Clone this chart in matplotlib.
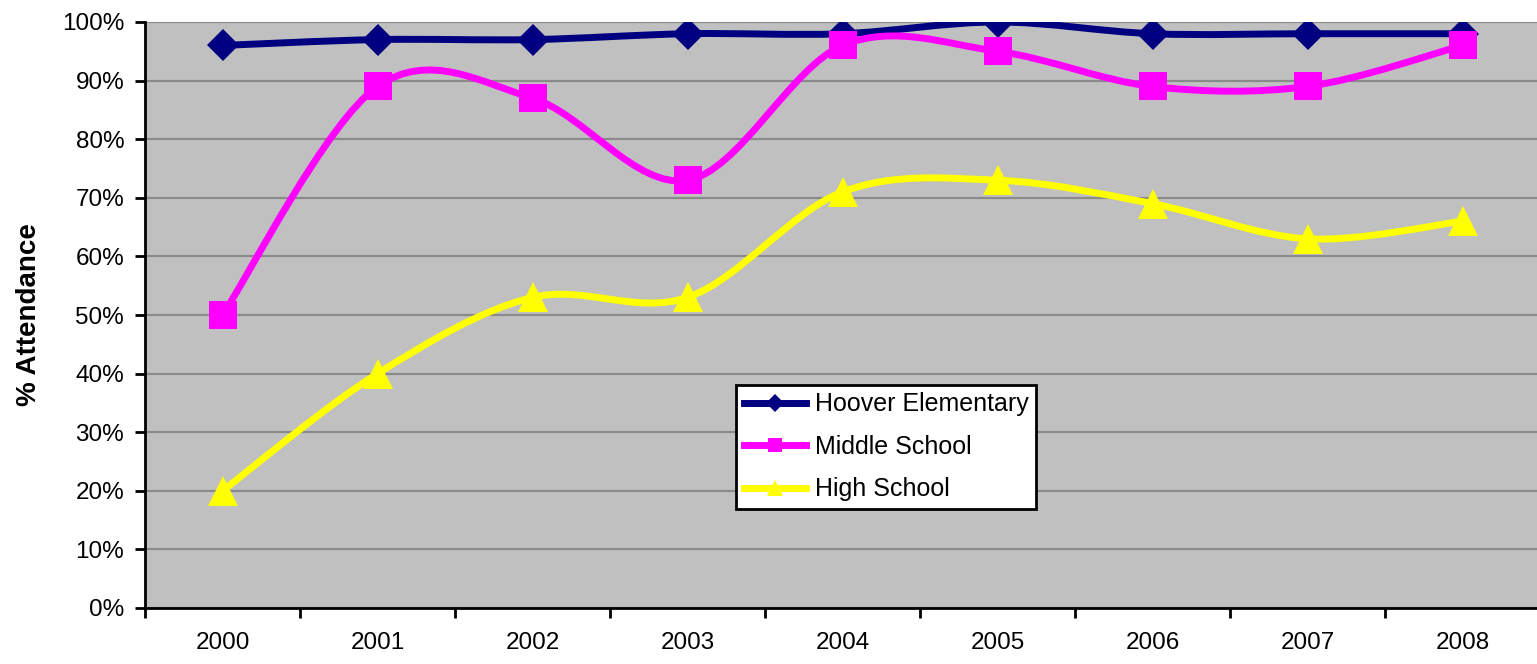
import matplotlib
matplotlib.use("Agg")
import matplotlib.pyplot as plt
import numpy as np
from matplotlib.path import Path
from matplotlib.patches import PathPatch
from matplotlib.lines import Line2D
from matplotlib.ticker import FuncFormatter, MultipleLocator

plt.rcParams['font.family'] = ['Liberation Sans', 'DejaVu Sans']

years = ["2000", "2001", "2002", "2003", "2004", "2005", "2006", "2007", "2008"]
hoover = [96, 97, 97, 98, 98, 100, 98, 98, 98]
middle = [50, 89, 87, 73, 96, 95, 89, 89, 96]
high = [20, 40, 53, 53, 71, 73, 69, 63, 66]

series = [
    ("Hoover Elementary", hoover, "#000080", "D", 16, 9),
    ("Middle School", middle, "#FF00FF", "s", 19.5, 10),
    ("High School", high, "#FFFF00", "^", 21.5, 12),
]

fig = plt.figure(figsize=(15.37, 6.64), dpi=100)
W, H = 1537, 664
ax = fig.add_axes([145 / W, 56 / H, 1395 / W, 586 / H])
ax.set_facecolor("#C0C0C0")


def smooth_path(xs, ys, t=1 / 6):
    xs = np.asarray(xs, float)
    ys = np.asarray(ys, float)
    pts = np.column_stack([xs, ys])
    n = len(pts)
    verts = [pts[0]]
    codes = [Path.MOVETO]
    for i in range(n - 1):
        p0 = pts[i - 1] if i > 0 else pts[i]
        p1 = pts[i]
        p2 = pts[i + 1]
        p3 = pts[i + 2] if i + 2 < n else pts[i + 1]
        c1 = p1 + (p2 - p0) * t
        c2 = p2 - (p3 - p1) * t
        verts += [c1, c2, p2]
        codes += [Path.CURVE4] * 3
    return Path(verts, codes)


x = np.arange(len(years))
handles = []
for name, vals, col, mk, ms, lms in series:
    patch = PathPatch(smooth_path(x, vals), facecolor="none", edgecolor=col,
                      lw=5, zorder=3, capstyle="round", joinstyle="round")
    ax.add_patch(patch)
    ax.plot(x, vals, linestyle="none", marker=mk, markersize=ms, color=col,
            markeredgecolor=col, markeredgewidth=0, zorder=4)
    handles.append(Line2D([0], [0], color=col, lw=5, marker=mk,
                          markersize=lms, markeredgewidth=0))

ax.set_xlim(-0.5, len(years) - 0.5)
ax.set_ylim(0, 100)
ax.yaxis.set_major_locator(MultipleLocator(10))
ax.yaxis.set_major_formatter(FuncFormatter(lambda v, p: f"{int(v)}%"))
ax.grid(axis="y", color="#8A8A8A", lw=1.6, zorder=1)
ax.set_axisbelow(True)

ax.set_xticks(x)
ax.set_xticklabels(years)
ax.set_xticks(np.arange(-0.5, len(years), 1), minor=True)
ax.tick_params(axis="x", which="major", length=0, pad=17, labelsize=17.5)
ax.tick_params(axis="x", which="minor", length=7, width=2, direction="out")
ax.tick_params(axis="y", length=7, width=2, direction="out", pad=8, labelsize=17.5)

for s in ["top", "right"]:
    ax.spines[s].set_visible(False)
for s in ["left", "bottom"]:
    ax.spines[s].set_linewidth(2)
    ax.spines[s].set_color("black")

ax.set_ylabel("% Attendance", fontsize=20, fontweight="bold", labelpad=14)

leg = ax.legend(handles=handles, labels=[s[0] for s in series],
                loc="lower left", bbox_to_anchor=(0.4237, 0.169, 0.2151, 0.2287),
                mode="expand", fontsize=18, frameon=True, fancybox=False,
                edgecolor="black", facecolor="white", framealpha=1,
                handlelength=2.5, borderpad=0.3, labelspacing=0.74,
                handletextpad=0.35, borderaxespad=0)
leg.get_frame().set_linewidth(2)

fig.savefig("out.png", dpi=100)
